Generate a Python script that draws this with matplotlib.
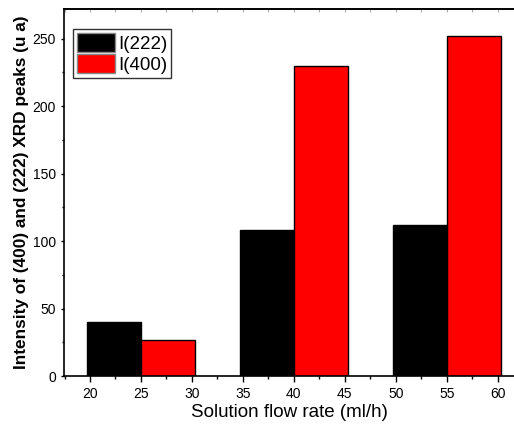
import matplotlib.pyplot as plt
from matplotlib.ticker import MultipleLocator

plt.rcParams['font.family'] = ['Liberation Sans', 'DejaVu Sans']

flow_rate = [25, 40, 55]
i222 = [40, 108, 112]
i400 = [26.5, 230, 252]

fig = plt.figure(figsize=(5.14, 4.32), dpi=100)
ax = fig.add_axes([0.1245, 0.1296, 0.8755, 0.8495])

bar_w = 5.3
ax.bar(flow_rate, i222, width=-bar_w, align='edge', color='black',
       edgecolor='black', linewidth=1, label='I(222)')
ax.bar(flow_rate, i400, width=bar_w, align='edge', color='#ff0000',
       edgecolor='black', linewidth=1, label='I(400)')

ax.set_xlim(17.45, 61.6)
ax.set_ylim(0, 272)
ax.xaxis.set_major_locator(MultipleLocator(5))
ax.xaxis.set_minor_locator(MultipleLocator(2.5))
ax.yaxis.set_major_locator(MultipleLocator(50))
ax.yaxis.set_minor_locator(MultipleLocator(25))

ax.spines['right'].set_visible(False)
for s in ['left', 'bottom', 'top']:
    ax.spines[s].set_linewidth(1.2)
ax.tick_params(labelsize=10)
ax.tick_params(axis='x', which='major', direction='out', length=4.3, width=1, pad=3.8)
ax.tick_params(axis='x', which='minor', direction='out', length=2.5, width=1)
ax.tick_params(axis='y', which='major', direction='out', length=2, width=1, pad=3.7)
ax.tick_params(axis='y', which='minor', direction='out', length=1.5, width=1)

# faint inward ticks on the top frame
top = ax.secondary_xaxis('top')
top.xaxis.set_major_locator(MultipleLocator(5))
top.xaxis.set_minor_locator(MultipleLocator(2.5))
top.tick_params(which='both', direction='in', length=2.5, width=0.8,
                color='#aaaaaa', labeltop=False)
top.spines['top'].set_linewidth(1.2)

ax.set_xlabel('Solution flow rate (ml/h)', fontsize=13.5, labelpad=2)
ax.set_ylabel('Intensity of (400) and (222) XRD peaks (u a)', fontsize=12.4,
              fontweight='bold', labelpad=3)

leg = ax.legend(loc='upper left', bbox_to_anchor=(0.02, 0.945), fontsize=13.5,
                frameon=True, fancybox=False, edgecolor='black',
                handlelength=2.05, handleheight=1.15, labelspacing=0.1,
                handletextpad=0.15, borderpad=0.2, borderaxespad=0)
leg.get_frame().set_linewidth(1)
for h in leg.legend_handles:
    h.set_edgecolor('#888888')

fig.savefig('out.png', dpi=100)
